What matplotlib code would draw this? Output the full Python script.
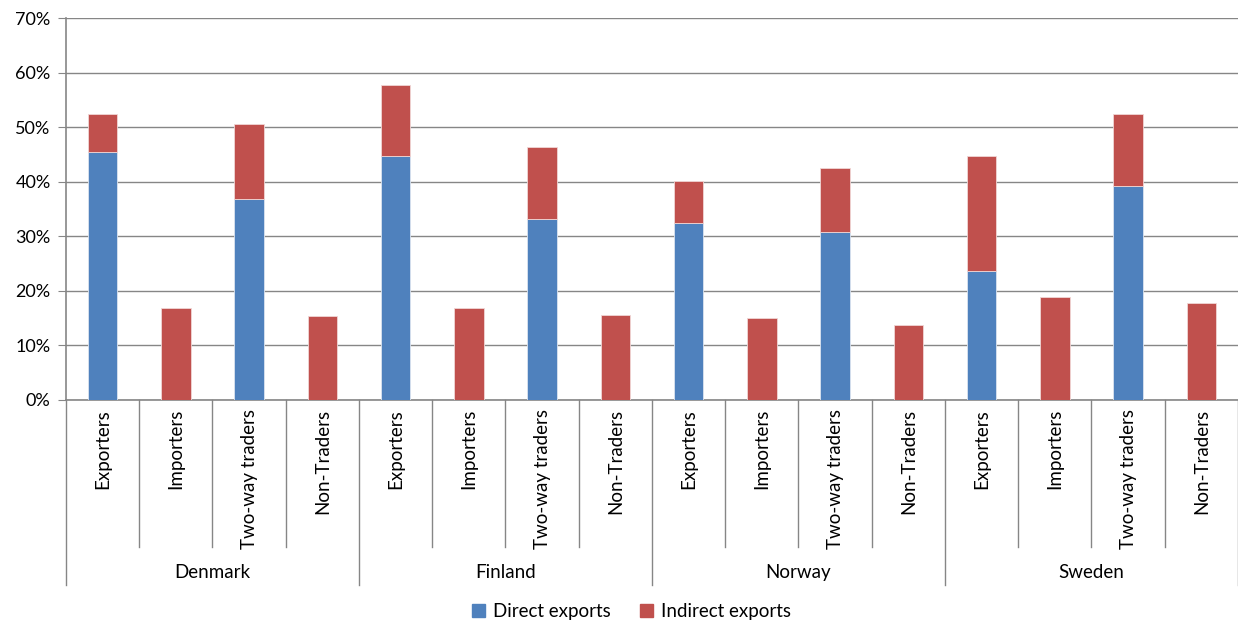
"""
Direct vs indirect exports by firm trade status, Nordic countries
"""

import matplotlib
matplotlib.use("Agg")
import matplotlib.pyplot as plt
from matplotlib.patches import Patch
from matplotlib.ticker import PercentFormatter

plt.rcParams['font.family'] = ['Lato', 'DejaVu Sans']

countries = ["Denmark", "Finland", "Norway", "Sweden"]
groups = ["Exporters", "Importers", "Two-way traders", "Non-Traders"]

# shares in percent, in order country x group
direct = [45.4, 0, 36.8, 0,
          44.8, 0, 33.2, 0,
          32.5, 0, 30.8, 0,
          23.6, 0, 39.2, 0]
total = [52.4, 16.8, 50.5, 15.4,
         57.7, 16.9, 46.3, 15.6,
         40.1, 15.0, 42.6, 13.7,
         44.8, 18.9, 52.4, 17.8]
indirect = [t - d for t, d in zip(total, direct)]

BLUE = '#4F81BD'
RED = '#C0504D'
GRID = '#868686'


def main():
    fig = plt.figure(figsize=(12.38, 6.22), dpi=100)
    ax = fig.add_axes([0.0533, 0.357, 0.9467, 0.614])

    n = len(total)
    x = list(range(n))
    ax.bar(x, direct, width=0.4, color=BLUE, edgecolor='#dbe4f0', linewidth=0.6, zorder=3)
    ax.bar(x, indirect, width=0.4, bottom=direct, color=RED, edgecolor='#f0d6d5',
           linewidth=0.6, zorder=3)

    ax.set_xlim(-0.5, n - 0.5)
    ax.set_ylim(0, 70)
    ax.set_yticks(range(0, 71, 10))
    ax.yaxis.set_major_formatter(PercentFormatter(decimals=0))
    ax.grid(axis='y', color=GRID, linewidth=1.0, zorder=0)
    ax.tick_params(axis='y', length=6, color=GRID, labelsize=13, pad=5)
    ax.tick_params(axis='x', length=0, labelbottom=False)

    for side in ['top', 'right']:
        ax.spines[side].set_visible(False)
    for side in ['left', 'bottom']:
        ax.spines[side].set_color(GRID)
        ax.spines[side].set_linewidth(1.2)

    # two-level category axis
    trans = ax.get_xaxis_transform()
    for i in range(n + 1):
        depth = -0.484 if i % 4 == 0 else -0.385
        ax.plot([i - 0.5, i - 0.5], [0, depth], color=GRID, lw=1.0,
                transform=trans, clip_on=False)
    for i in range(n):
        ax.text(i, -0.024, groups[i % 4], rotation=90, ha='center', va='top',
                fontsize=13.5, transform=trans)
    for j, c in enumerate(countries):
        ax.text(j * 4 + 1.5, -0.453, c, ha='center', va='center',
                fontsize=13.5, transform=trans)

    handles = [Patch(color=BLUE, label='Direct exports'),
               Patch(color=RED, label='Indirect exports')]
    fig.legend(handles=handles, loc='center', bbox_to_anchor=(0.51, 0.017),
               ncol=2, frameon=False, fontsize=13.5, handlelength=0.7,
               handleheight=0.7, handletextpad=0.4, columnspacing=1.6)

    fig.savefig('out.png', dpi=100, facecolor='white')
    plt.close(fig)


if __name__ == "__main__":
    main()
